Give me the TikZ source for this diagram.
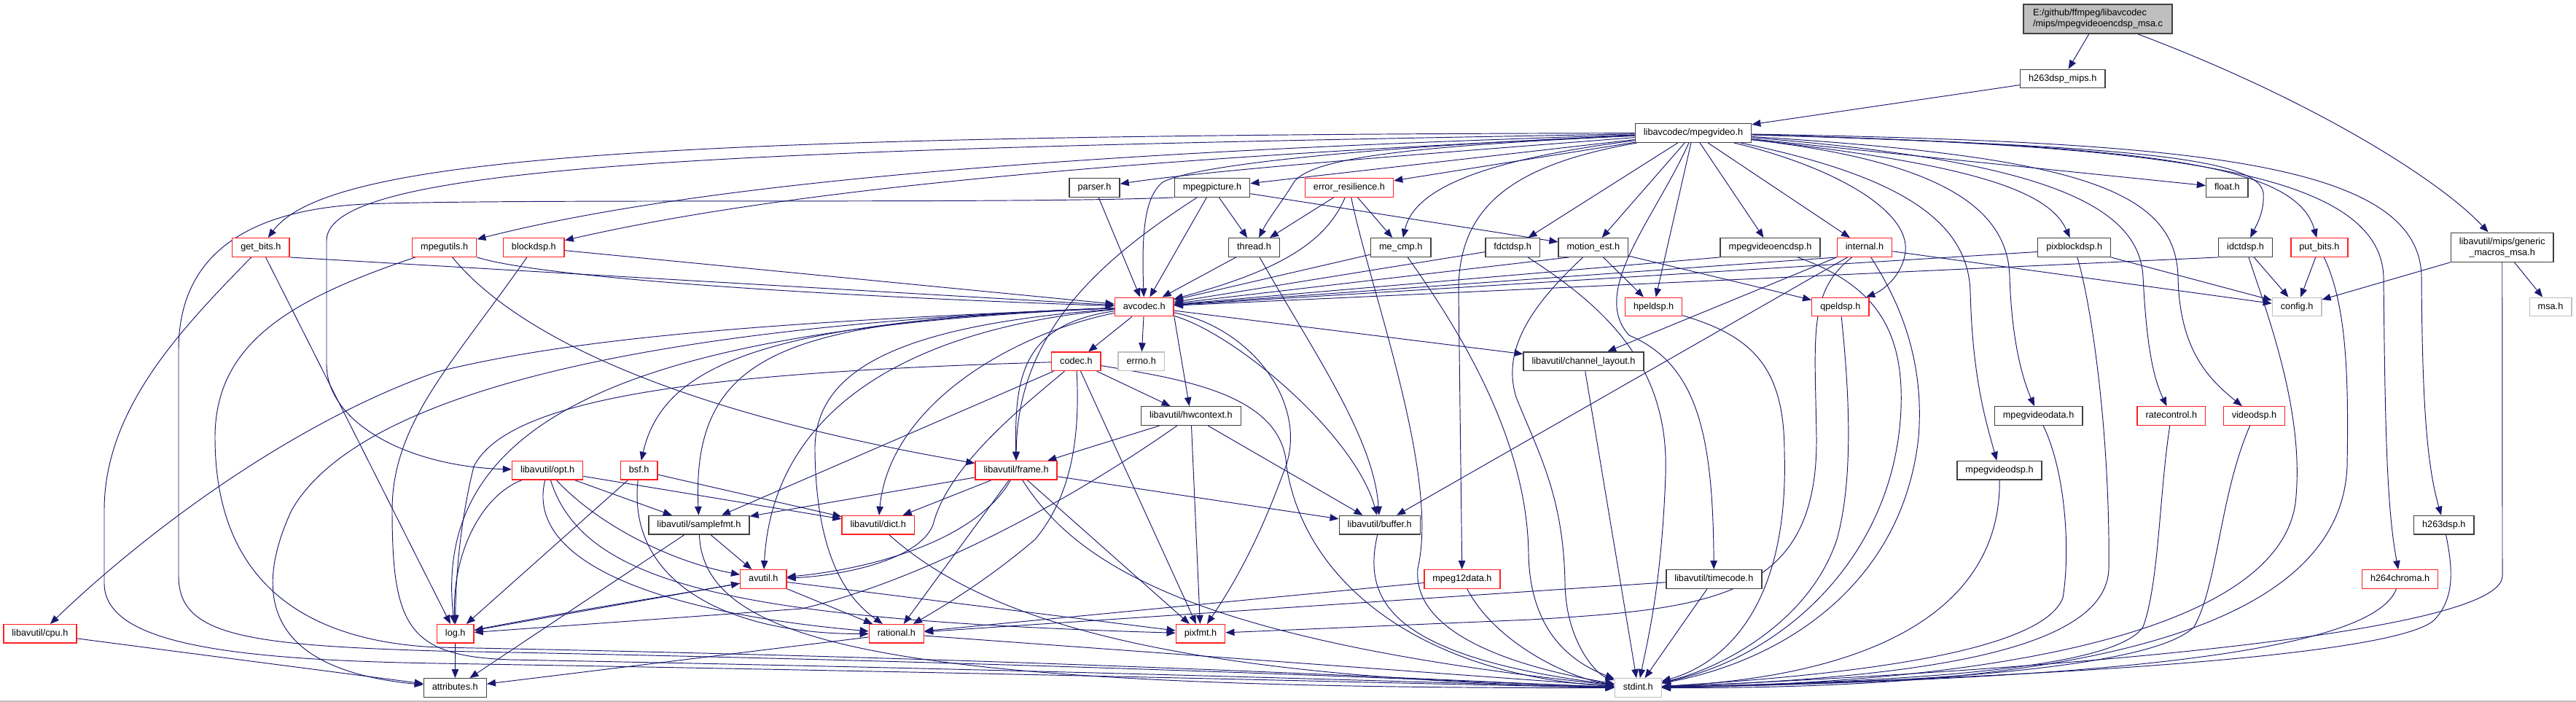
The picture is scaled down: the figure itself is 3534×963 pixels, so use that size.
\documentclass[tikz,border=0pt]{standalone}
\usepackage{fontspec}
\setmainfont{Liberation Sans}
\usetikzlibrary{arrows.meta}
\pgfdeclarelayer{edgelayer}
\pgfsetlayers{edgelayer,main}
\definecolor{edgec}{HTML}{191970}
\definecolor{bkb}{HTML}{404040}
\definecolor{gyb}{HTML}{BFBFBF}
\definecolor{rdb}{HTML}{FF2020}
\begin{document}
\begin{tikzpicture}[x=1pt,y=-1pt,
 nd/.style={draw, fill=white, line width=1.4pt, inner xsep=11.5pt, inner ysep=0pt, minimum height=25.5pt, text height=9.4pt, text depth=2.6pt, font=\fontsize{12.7}{15}\selectfont},
 ndtwo/.style={draw, fill=white, line width=1.4pt, inner xsep=11.5pt, inner ysep=0pt, minimum height=40pt, font=\fontsize{12.7}{15}\selectfont},
 bk/.style={nd, draw=bkb},
 rd/.style={nd, draw=rdb},
 gy/.style={nd, draw=gyb},
 ed/.style={draw=edgec, line width=0.95pt, -{Triangle[length=12pt,width=9.5pt]}}]
\useasboundingbox (0,0) rectangle (3534,963);

% nodes
\node[ndtwo, fill=gyb, draw=bkb, align=left, minimum width=204pt] (main) at (2878,26) {E:/github/ffmpeg/libavcodec\\/mips/mpegvideoencdsp\_msa.c};
\node[bk] (h263mips) at (2829.7,108) {h263dsp\_mips.h};
\node[bk] (mpegvideo) at (2323,182.5) {libavcodec/mpegvideo.h};
\node[bk] (parser) at (1501.6,257.5) {parser.h};
\node[bk] (mpegpicture) at (1663,257.5) {mpegpicture.h};
\node[rd] (errres) at (1851,257.5) {error\_resilience.h};
\node[bk] (floath) at (3055.3,257.5) {float.h};
\node[rd] (getbits) at (357.8,339.5) {get\_bits.h};
\node[rd] (mpegutils) at (609.7,339.5) {mpegutils.h};
\node[rd] (blockdsp) at (732.3,339.5) {blockdsp.h};
\node[bk] (thread) at (1720.5,339.5) {thread.h};
\node[bk] (mecmp) at (1921.7,339.5) {me\_cmp.h};
\node[bk] (fdctdsp) at (2075.2,339.5) {fdctdsp.h};
\node[bk] (motionest) at (2185.9,339.5) {motion\_est.h};
\node[bk] (mvencdsp) at (2428.5,339.5) {mpegvideoencdsp.h};
\node[rd] (internal) at (2558,339.5) {internal.h};
\node[bk] (pixblockdsp) at (2845.7,339.5) {pixblockdsp.h};
\node[bk] (idctdsp) at (3080.6,339.5) {idctdsp.h};
\node[rd] (putbits) at (3181.9,339.5) {put\_bits.h};
\node[ndtwo, draw=bkb, align=center] (gmacros) at (3432.7,339.2) {libavutil/mips/generic\\\_macros\_msa.h};
\node[rd] (avcodec) at (1569.7,421) {avcodec.h};
\node[rd] (hpeldsp) at (2268.6,421) {hpeldsp.h};
\node[rd] (qpeldsp) at (2524.8,421) {qpeldsp.h};
\node[gy] (config) at (3151.1,421) {config.h};
\node[gy] (msa) at (3499,421) {msa.h};
\node[rd] (codec) at (1476.4,495.8) {codec.h};
\node[gy] (errno) at (1565.7,495.8) {errno.h};
\node[bk] (chlayout) at (2172.5,495.8) {libavutil/channel\_layout.h};
\node[bk] (hwcontext) at (1633.9,570.5) {libavutil/hwcontext.h};
\node[bk] (mvdata) at (2796.6,570.5) {mpegvideodata.h};
\node[rd] (ratecontrol) at (2978.8,570.5) {ratecontrol.h};
\node[rd] (videodsp) at (3092.5,570.5) {videodsp.h};
\node[rd] (opt) at (751.1,645.2) {libavutil/opt.h};
\node[rd] (bsf) at (876.6,645.2) {bsf.h};
\node[rd] (frame) at (1394.1,645.2) {libavutil/frame.h};
\node[bk] (mvdsp) at (2743,645.2) {mpegvideodsp.h};
\node[bk] (samplefmt) at (959,720.2) {libavutil/samplefmt.h};
\node[rd] (dict) at (1204.7,720.2) {libavutil/dict.h};
\node[bk] (buffer) at (1892.7,720.2) {libavutil/buffer.h};
\node[bk] (h263dsp) at (3352.8,720.2) {h263dsp.h};
\node[rd] (avutil) at (1047.3,794.5) {avutil.h};
\node[rd] (mpeg12data) at (2005.9,794.5) {mpeg12data.h};
\node[bk] (timecode) at (2351.3,794.5) {libavutil/timecode.h};
\node[rd] (h264chroma) at (3292.6,794.5) {h264chroma.h};
\node[rd] (cpu) at (54.9,869.3) {libavutil/cpu.h};
\node[rd] (logh) at (624.7,869.3) {log.h};
\node[rd] (rational) at (1229.9,869.3) {rational.h};
\node[rd] (pixfmt) at (1647,869.3) {pixfmt.h};
\node[bk] (attributes) at (624.3,943.5) {attributes.h};
\node[gy] (stdint) at (2247.2,943.5) {stdint.h};

\begin{pgfonlayer}{edgelayer}
\fill[white] (0,0) rectangle (3534,963);
\draw[gyb, line width=2pt] (0,962) -- (3534,962);

% main file
\draw[ed] (main) -- (h263mips);
\draw[ed] (main) .. controls (3180,140) and (3350,250) .. (gmacros);
\draw[ed] (h263mips) -- (mpegvideo);

% mpegvideo.h
\draw[ed] (mpegvideo) -- (floath);
\draw[ed] (mpegvideo) .. controls (1900,215) and (1650,235) .. (parser);
\draw[ed] (mpegvideo) -- (mpegpicture);
\draw[ed] (mpegvideo) -- (errres);
\draw[ed] (mpegvideo) .. controls (900,185) and (450,215) .. (getbits);
\draw[ed] (mpegvideo) .. controls (1600,205) and (1000,240) .. (mpegutils);
\draw[ed] (mpegvideo) .. controls (1600,215) and (1100,255) .. (blockdsp);
\draw[ed] (mpegvideo) .. controls (1900,200) and (1640,225) .. (1595,250) .. controls (1570,270) and (1566,320) .. (avcodec);
\draw[ed] (mpegvideo) .. controls (1950,200) and (1800,215) .. (1775,250) .. controls (1760,275) and (1740,300) .. (thread);
\draw[ed] (mpegvideo) .. controls (2030,220) and (1940,260) .. (mecmp);
\draw[ed] (mpegvideo) -- (fdctdsp);
\draw[ed] (mpegvideo) -- (motionest);
\draw[ed] (mpegvideo) -- (hpeldsp);
\draw[ed] (mpegvideo) -- (mvencdsp);
\draw[ed] (mpegvideo) -- (internal);
\draw[ed] (mpegvideo) .. controls (2520,230) and (2620,290) .. (2614,345) .. controls (2610,380) and (2580,400) .. (qpeldsp);
\draw[ed] (mpegvideo) .. controls (2700,225) and (2810,260) .. (pixblockdsp);
\draw[ed] (mpegvideo) .. controls (2600,240) and (2700,300) .. (2703,400) .. controls (2706,520) and (2725,580) .. (mvdsp);
\draw[ed] (mpegvideo) .. controls (2650,220) and (2755,280) .. (2757,380) .. controls (2760,470) and (2775,520) .. (mvdata);
\draw[ed] (mpegvideo) .. controls (2800,220) and (2935,280) .. (2940,380) .. controls (2945,480) and (2955,520) .. (ratecontrol);
\draw[ed] (mpegvideo) .. controls (2850,215) and (2985,260) .. (2988,380) .. controls (2990,480) and (3030,520) .. (videodsp);
\draw[ed] (mpegvideo) .. controls (2900,200) and (3100,215) .. (3105,265) .. controls (3107,290) and (3095,310) .. (idctdsp);
\draw[ed] (mpegvideo) .. controls (2950,200) and (3150,225) .. (putbits);
\draw[ed] (mpegvideo) .. controls (2950,200) and (3265,230) .. (3270,380) .. controls (3272,600) and (3275,700) .. (h264chroma);
\draw[ed] (mpegvideo) .. controls (3000,195) and (3320,220) .. (3322,380) .. controls (3323,560) and (3330,640) .. (h263dsp);
\draw[ed] (mpegvideo) .. controls (1000,205) and (448,225) .. (448,330) -- (448,500) .. controls (448,580) and (560,640) .. (opt);
\draw[ed] (mpegvideo) .. controls (2080,225) and (2000,280) .. (2001,400) -- (mpeg12data);
\draw[ed] (mpegvideo) .. controls (2270,300) and (2180,400) .. (2235,460) .. controls (2330,500) and (2350,600) .. (timecode);

% generic_macros_msa.h
\draw[ed] (gmacros) -- (config);
\draw[ed] (gmacros) -- (msa);
\draw[ed] (gmacros.south) -- (3433,790) .. controls (3433,870) and (2800,920) .. (stdint);

% second level
\draw[ed] (parser) -- (avcodec);
\draw[ed] (mpegpicture) -- (avcodec);
\draw[ed] (mpegpicture) -- (thread);
\draw[ed] (mpegpicture) .. controls (1520,350) and (1395,450) .. (frame);
\draw[ed] (mpegpicture) -- (motionest);
\draw[ed] (mpegpicture.south west) .. controls (1400,280) and (700,272) .. (500,280) .. controls (300,290) and (245,380) .. (245,480) -- (245,790) .. controls (245,870) and (330,885) .. (600,893) .. controls (1500,910) and (2000,935) .. (stdint);

\draw[ed] (errres) .. controls (1820,330) and (1760,370) .. (avcodec);
\draw[ed] (errres) -- (thread);
\draw[ed] (errres) -- (mecmp);
\draw[ed] (errres) .. controls (1880,400) and (1975,650) .. (1945,780) .. controls (1938,860) and (2050,910) .. (stdint);

\draw[ed] (getbits.south east) -- (avcodec);
\draw[ed] (getbits) -- (logh);
\draw[ed] (getbits) .. controls (250,450) and (143,560) .. (143,700) -- (143,800) .. controls (143,880) and (300,905) .. (600,910) .. controls (1500,925) and (2000,940) .. (stdint);

\draw[ed] (mpegutils.south east) .. controls (740,380) and (1100,405) .. (avcodec);
\draw[ed] (mpegutils) .. controls (700,450) and (900,560) .. (frame);
\draw[ed] (mpegutils) .. controls (400,410) and (295,470) .. (295,600) .. controls (295,800) and (420,880) .. (600,888) .. controls (1500,905) and (2000,935) .. (stdint);

\draw[ed] (blockdsp) -- (avcodec);
\draw[ed] (blockdsp) .. controls (620,500) and (538,580) .. (538,700) .. controls (538,860) and (560,900) .. (700,905) .. controls (1500,920) and (2000,938) .. (stdint);

\draw[ed] (thread) -- (avcodec);
\draw[ed] (thread) .. controls (1800,480) and (1885,600) .. (buffer);

\draw[ed] (mecmp) -- (avcodec);
\draw[ed] (mecmp) .. controls (2000,450) and (2095,600) .. (2097,760) .. controls (2099,870) and (2160,910) .. (stdint);

\draw[ed] (fdctdsp) -- (avcodec);
\draw[ed] (fdctdsp) .. controls (2200,420) and (2290,500) .. (2285,650) .. controls (2280,800) and (2260,880) .. (stdint);

\draw[ed] ([xshift=15pt]motionest.south west) -- (avcodec);
\draw[ed] (motionest) -- (hpeldsp);
\draw[ed] (motionest) -- (qpeldsp);
\draw[ed] (motionest) .. controls (2100,420) and (2060,480) .. (2080,545) .. controls (2110,620) and (2145,680) .. (2147,800) .. controls (2148,880) and (2190,925) .. (stdint);

\draw[ed] (mvencdsp.south west) -- (avcodec);
\draw[ed] (mvencdsp) .. controls (2570,390) and (2612,450) .. (2608,560) .. controls (2600,760) and (2450,900) .. (stdint);

\draw[ed] (internal.south west) -- (avcodec);
\draw[ed] (internal.south west) -- (chlayout);
\draw[ed] (internal) -- (buffer);
\draw[ed] (internal) .. controls (2480,400) and (2490,460) .. (2492,600) .. controls (2494,820) and (2350,835) .. (2100,850) -- (pixfmt);
\draw[ed] (internal) .. controls (2610,420) and (2640,500) .. (2632,600) .. controls (2610,800) and (2450,905) .. (stdint);
\draw[ed] (internal) -- (config);

\draw[ed] ([yshift=-6pt]pixblockdsp.west) -- (avcodec);
\draw[ed] (pixblockdsp) .. controls (2870,420) and (2895,600) .. (2893,780) .. controls (2890,900) and (2600,930) .. (stdint);
\draw[ed] (pixblockdsp) -- (config);

\draw[ed] (idctdsp.south west) -- (avcodec);
\draw[ed] (idctdsp) -- (config);
\draw[ed] (idctdsp) .. controls (3110,430) and (3160,560) .. (3150,680) .. controls (3140,850) and (2800,935) .. (stdint);

\draw[ed] (putbits) -- (config);
\draw[ed] (putbits) .. controls (3220,420) and (3222,520) .. (3220,640) .. controls (3210,880) and (2800,945) .. (stdint);

\draw[ed] (hpeldsp) .. controls (2400,460) and (2448,500) .. (2448,620) .. controls (2455,850) and (2350,915) .. (stdint);
\draw[ed] (qpeldsp) .. controls (2535,520) and (2545,650) .. (2520,740) .. controls (2480,860) and (2350,920) .. (stdint);

% avcodec.h
\draw[ed] (avcodec) .. controls (1100,440) and (800,460) .. (600,510) .. controls (400,580) and (200,730) .. (cpu);
\draw[ed] (avcodec) -- (codec);
\draw[ed] (avcodec) -- (errno);
\draw[ed] (avcodec) -- (chlayout);
\draw[ed] (avcodec.south east) -- (hwcontext);
\draw[ed] (avcodec) .. controls (1400,445) and (1392,520) .. (frame);
\draw[ed] (avcodec) .. controls (1380,460) and (1220,560) .. (dict);
\draw[ed] (avcodec) .. controls (1100,440) and (948,470) .. (samplefmt);
\draw[ed] (avcodec) .. controls (1050,440) and (910,500) .. (bsf);
\draw[ed] (avcodec) .. controls (1250,450) and (1060,560) .. (avutil);
\draw[ed] (avcodec) .. controls (900,450) and (590,560) .. (logh);
\draw[ed] (avcodec) .. controls (800,450) and (480,560) .. (400,700) .. controls (340,830) and (380,920) .. (attributes);
\draw[ed] (avcodec) .. controls (1250,445) and (1115,500) .. (1118,620) .. controls (1120,760) and (1160,820) .. (rational);
\draw[ed] (avcodec) .. controls (1720,450) and (1800,560) .. (1760,650) .. controls (1720,760) and (1680,820) .. (pixfmt);
\draw[ed] (avcodec) .. controls (1700,460) and (1860,600) .. (buffer);

% codec.h
\draw[ed] (codec) .. controls (1620,520) and (1760,540) .. (1765,640) .. controls (1790,800) and (1950,925) .. (stdint);
\draw[ed] (codec) .. controls (1400,560) and (1300,640) .. (1280,720) .. controls (1260,770) and (1150,790) .. (avutil);
\draw[ed] (codec) -- (hwcontext);
\draw[ed] (codec) .. controls (1000,510) and (700,540) .. (650,640) .. controls (630,720) and (625,800) .. (logh);
\draw[ed] (codec) -- (pixfmt);
\draw[ed] (codec) .. controls (1482,600) and (1470,680) .. (1420,740) .. controls (1350,800) and (1280,840) .. (rational);
\draw[ed] (codec) -- (samplefmt);

% hwcontext.h
\draw[ed] (hwcontext) -- (frame);
\draw[ed] (hwcontext) .. controls (1450,700) and (1250,800) .. (1100,835) -- (logh);
\draw[ed] (hwcontext) -- (pixfmt);
\draw[ed] (hwcontext) -- (buffer);

% frame.h
\draw[ed] (frame) -- (samplefmt);
\draw[ed] (frame) -- (dict);
\draw[ed] (frame) .. controls (1340,740) and (1200,780) .. (avutil);
\draw[ed] (frame) -- (rational);
\draw[ed] (frame) .. controls (1480,780) and (1650,880) .. (stdint);
\draw[ed] (frame) -- (pixfmt);
\draw[ed] (frame) -- (buffer);

% samplefmt.h, dict.h
\draw[ed] (samplefmt) -- (attributes);
\draw[ed] (samplefmt) -- (avutil);
\draw[ed] (samplefmt) .. controls (965,890) and (1250,945) .. (stdint);
\draw[ed] (dict) .. controls (1350,850) and (1600,930) .. (stdint);

% avutil.h, log.h, rational.h
\draw[ed] (avutil) -- (logh);
\draw[ed] (avutil) -- (pixfmt);
\draw[ed] (avutil) -- (rational);
\draw[ed] (logh) -- (attributes);
\draw[ed] (logh) .. controls (800,835) and (950,812) .. (avutil);
\draw[ed] (rational) -- (attributes);
\draw[ed] (rational) -- (stdint);

% others
\draw[ed] (buffer) .. controls (1870,820) and (1900,900) .. (stdint);
\draw[ed] (chlayout) -- (stdint);
\draw[ed] (cpu) -- (attributes);

\draw[ed] (opt) .. controls (660,680) and (620,760) .. (logh);
\draw[ed] (opt) .. controls (720,770) and (900,840) .. (rational);
\draw[ed] (opt) .. controls (820,720) and (920,770) .. (avutil);
\draw[ed] (opt) -- (samplefmt);
\draw[ed] (opt) -- (dict);
\draw[ed] (opt) .. controls (800,800) and (1000,850) .. (pixfmt);

\draw[ed] (bsf) -- (dict);
\draw[ed] (bsf) -- (logh);
\draw[ed] (bsf) .. controls (860,800) and (1000,870) .. (rational);

\draw[ed] (mpeg12data) -- (rational);
\draw[ed] (mpeg12data) .. controls (2050,880) and (2150,930) .. (stdint);
\draw[ed] (timecode) -- (rational);
\draw[ed] (timecode) -- (stdint);

\draw[ed] (mvdata) .. controls (2835,650) and (2840,760) .. (2830,820) .. controls (2800,900) and (2500,928) .. (stdint);
\draw[ed] (mvdsp) .. controls (2745,820) and (2600,925) .. (stdint);
\draw[ed] (ratecontrol) .. controls (2962,680) and (2962,800) .. (2940,860) .. controls (2900,920) and (2600,935) .. (stdint);
\draw[ed] (videodsp) .. controls (3045,680) and (3043,800) .. (3010,860) .. controls (2950,920) and (2600,938) .. (stdint);
\draw[ed] (h264chroma) .. controls (3260,880) and (3000,930) .. (stdint);
\draw[ed] (h263dsp) .. controls (3365,780) and (3368,820) .. (3340,850) .. controls (3290,900) and (2800,930) .. (stdint);
\end{pgfonlayer}
\end{tikzpicture}
\end{document}
